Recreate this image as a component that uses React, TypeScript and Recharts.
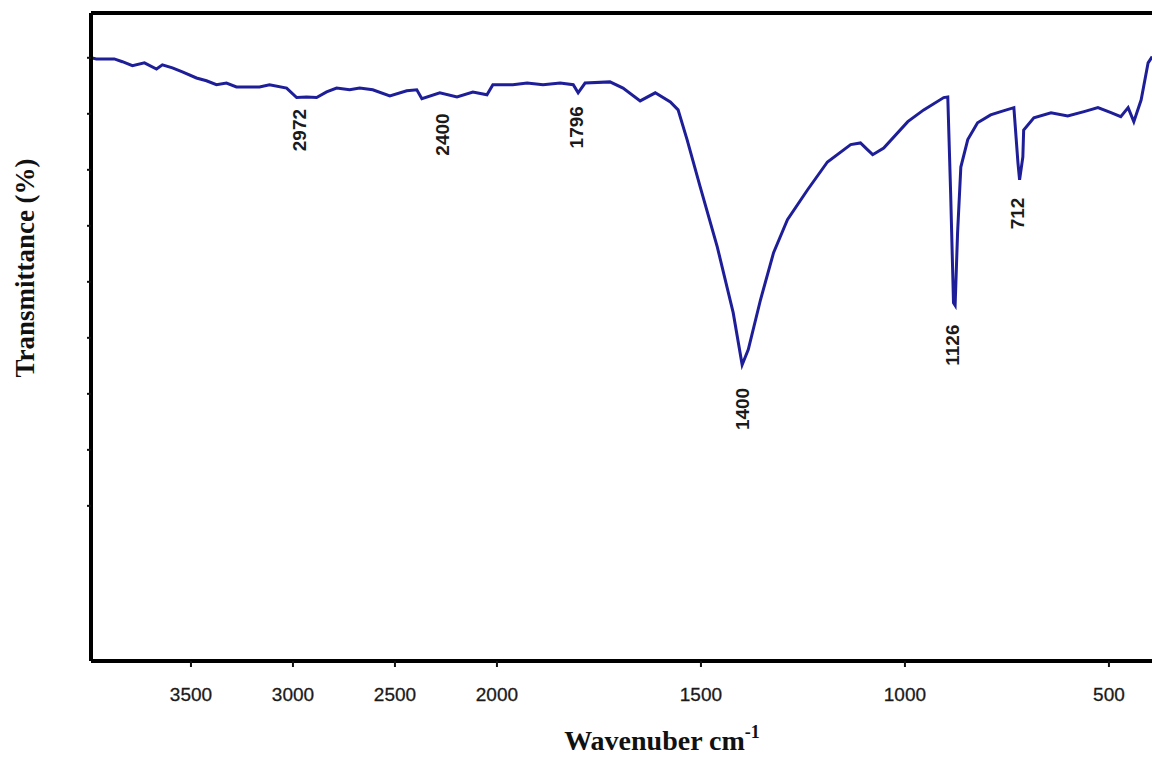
import { LineChart, Line, XAxis, YAxis, ReferenceLine, ReferenceDot } from "recharts"

// spectrum (wavenumber in cm-1, transmittance in arbitrary %)
const wavenumbers = [
  3990, 3964, 3876, 3836, 3787, 3728, 3669, 3640, 3591, 3542, 3473, 3424, 3375, 3326, 3277,
  3164, 3115, 3031, 2982, 2933, 2884, 2835, 2786, 2722, 2673, 2609, 2525, 2442, 2393, 2368,
  2280, 2196, 2118, 2049, 2020, 1961, 1926, 1887, 1845, 1813, 1801, 1784, 1723, 1691, 1649,
  1612, 1575, 1556, 1534, 1502, 1460, 1421, 1399, 1384, 1354, 1322, 1288, 1239, 1190, 1133,
  1109, 1092, 1079, 1052, 993, 954, 905, 895, 888, 881, 877, 871, 863, 846, 822, 790, 765,
  733, 723, 719, 711, 709, 684, 642, 601, 561, 527, 495, 471, 453, 439, 421, 404, 394,
]
const transmittance = [
  90.0, 89.8, 89.8, 89.3, 88.6, 89.1, 88.0, 88.75, 88.2, 87.5, 86.4, 85.9, 85.2, 85.5, 84.8,
  84.8, 85.2, 84.6, 82.9, 83.0, 82.9, 83.9, 84.6, 84.3, 84.6, 84.3, 83.2, 84.1, 84.3, 82.7,
  83.75, 83.0, 83.9, 83.4, 85.2, 85.2, 85.5, 85.2, 85.5, 85.2, 83.75, 85.5, 85.7, 84.6, 82.3,
  83.75, 82.1, 80.7, 75.4, 67.0, 56.25, 44.5, 35.2, 37.9, 46.8, 55.2, 61.1, 66.4, 71.4, 74.5,
  74.8, 73.6, 72.7, 73.9, 78.6, 80.7, 82.9, 83.0, 65.9, 46.25, 45.8, 58.75, 70.5, 75.4, 78.4,
  79.8, 80.4, 81.1, 71.25, 68.2, 72.3, 77.1, 79.3, 80.2, 79.6, 80.4, 81.1, 80.2, 79.5, 81.1,
  78.6, 82.5, 89.1, 90.2,
]

const xTicks = [3500, 3000, 2500, 2000, 1500, 1000, 500]
const yTicks = [10, 20, 30, 40, 50, 60, 70, 80, 90]

const peakText = ["2972", "2400", "1796", "1400", "1126", "712"]
const peakAt = [2967, 2265, 1806, 1399, 883, 723]
const peakLabelT = [77.1, 76.3, 77.6, 27.3, 38.7, 62.2]

// the instrument halves the scale above 2000 cm-1
const toAxis = (w: number) => (w > 2000 ? 2000 + (w - 2000) / 2 : w)
const fromAxis = (u: number) => (u > 2000 ? 2000 + (u - 2000) * 2 : u)

const data = wavenumbers.map((w, i) => ({ pos: toAxis(w), t: transmittance[i] }))

const Y_MIN = -17.7
const Y_MAX = 98

const PeakLabel = ({ cx, cy, text }: any) => (
  <text
    x={cx}
    y={cy}
    transform={`rotate(-90 ${cx} ${cy})`}
    textAnchor="middle"
    dominantBaseline="central"
    fontFamily="'Liberation Sans', Arial, sans-serif"
    fontWeight="bold"
    fontSize={19}
    fill="#1a1a1a"
  >
    {text}
  </text>
)

export default function App() {
  return (
    <div
      style={{
        position: "absolute",
        left: 0,
        top: 0,
        width: 1152,
        height: 760,
        overflow: "hidden",
        background: "#fff",
      }}
    >
      <LineChart
        width={1160}
        height={760}
        data={data}
        margin={{ top: 13, right: 7, bottom: 0, left: 0 }}
      >
        <XAxis
          dataKey="pos"
          type="number"
          domain={[toAxis(392), toAxis(3990)]}
          reversed
          allowDataOverflow
          ticks={xTicks.map(toAxis)}
          tickFormatter={(v: number) => String(Math.round(fromAxis(v)))}
          axisLine={{ stroke: "#000", strokeWidth: 4 }}
          tickLine={{ stroke: "#111", strokeWidth: 2 }}
          tickSize={6}
          tickMargin={21}
          tick={{
            fill: "#1a1a1a",
            stroke: "#1a1a1a",
            strokeWidth: 0.3,
            fontSize: 19,
            fontFamily: "'Liberation Sans', Arial, sans-serif",
          }}
          height={99}
          label={{
            content: ({ viewBox }: any) => {
              const cx = viewBox.x + viewBox.width / 2 + 40
              const by = viewBox.y + 89
              return (
                <text
                  x={cx}
                  y={by}
                  textAnchor="middle"
                  fontFamily="'Liberation Serif', 'Times New Roman', serif"
                  fontWeight="bold"
                  fontSize={28}
                  fill="#111"
                >
                  Wavenuber cm
                  <tspan fontSize={18} dy={-12}>
                    -1
                  </tspan>
                </text>
              )
            },
          }}
        />
        <YAxis
          type="number"
          domain={[Y_MIN, Y_MAX]}
          allowDataOverflow
          ticks={yTicks}
          width={91}
          tick={() => <g />}
          tickSize={4}
          tickLine={{ stroke: "#111", strokeWidth: 2 }}
          axisLine={{ stroke: "#000", strokeWidth: 4 }}
          label={{
            content: ({ viewBox }: any) => {
              const x = viewBox.x + 25
              const y = viewBox.y + 255
              return (
                <text
                  x={x}
                  y={y}
                  transform={`rotate(-90 ${x} ${y})`}
                  textAnchor="middle"
                  dominantBaseline="central"
                  fontFamily="'Liberation Serif', 'Times New Roman', serif"
                  fontWeight="bold"
                  fontSize={27}
                  fill="#111"
                >
                  Transmittance (%)
                </text>
              )
            },
          }}
        />
        <ReferenceLine y={Y_MAX} stroke="#000" strokeWidth={4} ifOverflow="visible" />
        <Line
          type="linear"
          dataKey="t"
          stroke="#1e1e98"
          strokeWidth={3}
          dot={false}
          isAnimationActive={false}
        />
        {peakText.map((text, i) => (
          <ReferenceDot
            key={text}
            x={toAxis(peakAt[i])}
            y={peakLabelT[i]}
            r={0}
            shape={(p: any) => <PeakLabel cx={p.cx} cy={p.cy} text={text} />}
          />
        ))}
      </LineChart>
    </div>
  )
}
